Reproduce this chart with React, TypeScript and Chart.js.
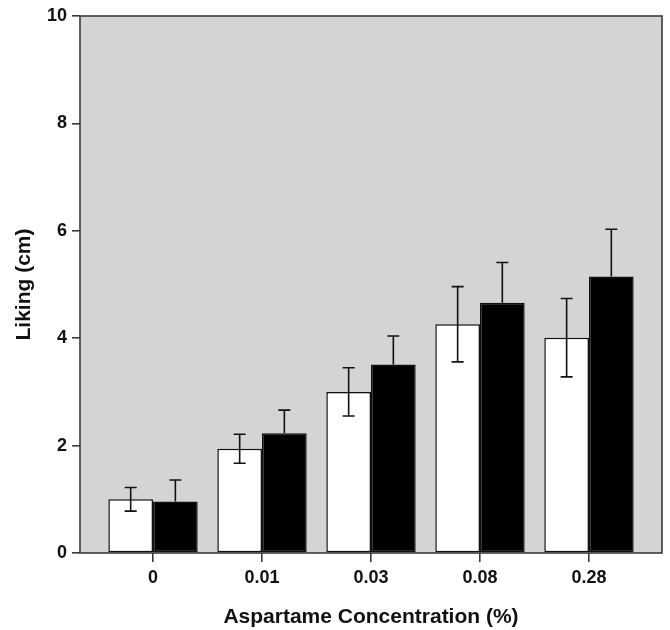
import React, { useEffect, useRef } from "react";
import { Chart, registerables } from "chart.js";

Chart.register(...registerables);

const categories = ["0", "0.01", "0.03", "0.08", "0.28"];
const whiteValues = [1.0, 1.94, 3.0, 4.26, 4.01];
const whiteErrors = [0.22, 0.27, 0.45, 0.7, 0.73];
const blackValues = [0.96, 2.23, 3.51, 4.66, 5.15];
const blackErrors = [0.4, 0.43, 0.53, 0.75, 0.88];
const yTicks = [0, 2, 4, 6, 8, 10];

const FONT = "'Liberation Sans', Arial, Helvetica, sans-serif";

const framePlugin = {
  id: "frame",
  beforeDraw(chart: any) {
    const { ctx, chartArea } = chart;
    ctx.save();
    ctx.fillStyle = "#d4d4d4";
    ctx.fillRect(chartArea.left, chartArea.top, chartArea.right - chartArea.left, chartArea.bottom - chartArea.top);
    ctx.restore();
  },
  afterDatasetsDraw(chart: any) {
    const { ctx, chartArea, scales } = chart;
    const errs = [whiteErrors, blackErrors];
    const vals = [whiteValues, blackValues];
    ctx.save();
    ctx.strokeStyle = "#111";
    ctx.lineWidth = 1.6;
    chart.data.datasets.forEach((_: any, di: number) => {
      const meta = chart.getDatasetMeta(di);
      meta.data.forEach((bar: any, i: number) => {
        const x = bar.x;
        const yTop = scales.y.getPixelForValue(vals[di][i] + errs[di][i]);
        const yBot = scales.y.getPixelForValue(vals[di][i] - errs[di][i]);
        const yMid = scales.y.getPixelForValue(vals[di][i]);
        const lower = di === 0;
        ctx.beginPath();
        ctx.moveTo(x, yTop);
        ctx.lineTo(x, lower ? yBot : yMid);
        ctx.moveTo(x - 6, yTop);
        ctx.lineTo(x + 6, yTop);
        if (lower) {
          ctx.moveTo(x - 6, yBot);
          ctx.lineTo(x + 6, yBot);
        }
        ctx.stroke();
      });
    });
    ctx.restore();
    ctx.save();
    ctx.strokeStyle = "#3a3a3a";
    ctx.lineWidth = 1.6;
    ctx.strokeRect(chartArea.left, chartArea.top, chartArea.right - chartArea.left, chartArea.bottom - chartArea.top);
    ctx.restore();
  },
};

export default function App() {
  const ref = useRef<HTMLCanvasElement | null>(null);
  useEffect(() => {
    if (!ref.current) return;
    const chart = new Chart(ref.current, {
      type: "bar",
      data: {
        datasets: [
          {
            label: "white",
            data: categories.map((_, i) => ({ x: i, y: whiteValues[i] })),
            backgroundColor: "#ffffff",
            borderColor: "#111",
            borderWidth: 1.5,
            borderSkipped: false,
          },
          {
            label: "black",
            data: categories.map((_, i) => ({ x: i, y: blackValues[i] })),
            backgroundColor: "#000000",
            borderColor: "#111",
            borderWidth: 1.5,
            borderSkipped: false,
          },
        ],
      },
      options: {
        animation: false,
        responsive: false,
        maintainAspectRatio: false,
        events: [],
        layout: { padding: { top: 16, right: 8, left: 0, bottom: 0 } },
        categoryPercentage: 0.82,
        barPercentage: 1.0,
        plugins: {
          legend: { display: false },
          tooltip: { enabled: false },
        },
        scales: {
          x: {
            type: "linear",
            offset: false,
            min: -0.67,
            max: 4.67,
            afterBuildTicks(scale: any) {
              scale.ticks = categories.map((_, i) => ({ value: i }));
            },
            afterFit(scale: any) {
              scale.height = 77;
            },
            ticks: {
              callback: (v: any) => categories[Math.round(Number(v))] ?? "",
              font: { family: FONT, size: 18, weight: "bold" },
              color: "#111",
              padding: 5,
              maxRotation: 0,
              autoSkip: false,
            },
            grid: {
              offset: false,
              drawOnChartArea: false,
              drawTicks: true,
              tickLength: 9,
              color: "#3a3a3a",
              lineWidth: 1.6,
            },
            border: { display: false },
            title: {
              display: true,
              text: "Aspartame Concentration (%)",
              font: { family: FONT, size: 21, weight: "bold" },
              color: "#111",
              padding: { top: 8, bottom: 0 },
            },
          },
          y: {
            min: 0,
            max: 10,
            afterBuildTicks(scale: any) {
              scale.ticks = yTicks.map((v) => ({ value: v }));
            },
            afterFit(scale: any) {
              scale.width = 80;
            },
            ticks: {
              font: { family: FONT, size: 18, weight: "bold" },
              color: "#111",
              padding: 5,
            },
            grid: {
              drawOnChartArea: false,
              drawTicks: true,
              tickLength: 8,
              color: "#3a3a3a",
              lineWidth: 1.6,
            },
            border: { display: false },
            title: {
              display: true,
              text: "Liking (cm)",
              font: { family: FONT, size: 21, weight: "bold" },
              color: "#111",
              padding: { top: 12, bottom: 0 },
            },
          },
        },
      } as any,
      plugins: [framePlugin],
    });
    return () => chart.destroy();
  }, []);
  return (
    <div style={{ position: "fixed", left: 0, top: 0, width: 670, height: 630, background: "#fff" }}>
      <canvas ref={ref} width={670} height={630} style={{ width: 670, height: 630, display: "block" }} />
    </div>
  );
}
